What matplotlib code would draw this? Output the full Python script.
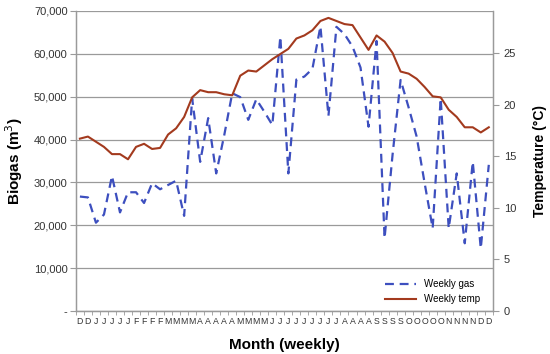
import matplotlib
matplotlib.use("Agg")
import matplotlib.pyplot as plt
from matplotlib.ticker import FuncFormatter, MultipleLocator

plt.rcParams["font.family"] = ["Liberation Sans", "DejaVu Sans"]

week_labels = list("DDJJJJJFFFFMMMMAAAAAMMMMJJJJJJJJJAAAASSSSOOOOONNNNDD")

weekly_gas = [
    26700, 26500, 20600, 22500, 31500, 23000, 27700, 27700, 25200, 29800,
    28400, 29400, 30400, 22200, 49600, 34800, 45000, 32100, 41000, 50800,
    49900, 44600, 49400, 46500, 43400, 64000, 32100, 54000, 54700, 56500,
    66400, 45500, 66300, 64600, 61700, 56800, 43000, 63000, 17000, 36500,
    53900, 47500, 40700, 29800, 19300, 49600, 19300, 32100, 15800, 34800,
    14600, 34100,
]

weekly_temp = [
    16.7, 16.9, 16.4, 15.9, 15.2, 15.2, 14.7, 15.9, 16.2, 15.7,
    15.8, 17.1, 17.7, 18.8, 20.7, 21.4, 21.2, 21.2, 21.0, 20.9,
    22.8, 23.3, 23.2, 23.8, 24.4, 24.9, 25.4, 26.4, 26.7, 27.2,
    28.1, 28.4, 28.1, 27.8, 27.7, 26.5, 25.3, 26.7, 26.1, 25.0,
    23.2, 23.0, 22.5, 21.7, 20.8, 20.7, 19.5, 18.8, 17.8, 17.8,
    17.3, 17.8,
]

x = list(range(len(week_labels)))

fig = plt.figure(figsize=(5.5, 3.54), dpi=100)
ax = fig.add_axes([0.138, 0.1215, 0.758, 0.8475])
ax2 = ax.twinx()

gas_line, = ax.plot(x, weekly_gas, color="#3D4FBF", linewidth=1.6,
                    dashes=(4, 2.6), label="Weekly gas")
temp_line, = ax2.plot(x, weekly_temp, color="#A33A1E", linewidth=1.5,
                      label="Weekly temp")

ax.set_xlim(-0.5, len(x) - 0.5)
ax.set_ylim(0, 70000)
ax2.set_ylim(0, 29.07)

ax.yaxis.set_major_locator(MultipleLocator(10000))
ax.yaxis.set_major_formatter(FuncFormatter(lambda v, p: "-" if v == 0 else f"{v:,.0f}"))
ax2.set_yticks([0, 5, 10, 15, 20, 25])

ax.grid(axis="y", color="#9a9a9a", linewidth=0.9)
ax.set_axisbelow(True)

ax.set_xticks(x)
ax.set_xticklabels(week_labels, fontsize=6.3, color="#333333")
ax.set_xticks([i - 0.5 for i in range(len(x) + 1)], minor=True)
ax.tick_params(axis="x", which="major", length=0, pad=4)
ax.tick_params(axis="x", which="minor", length=3, color="#9a9a9a")
ax.tick_params(axis="y", length=4, color="#9a9a9a", labelsize=8, labelcolor="#333333", pad=2)
ax2.tick_params(axis="y", length=4, color="#9a9a9a", labelsize=8, labelcolor="#333333", pad=4)

for a in (ax, ax2):
    for s in a.spines.values():
        s.set_color("#9a9a9a")
        s.set_linewidth(0.9)
    a.spines["top"].set_visible(False)

ax.set_ylabel("Biogas (m$^3$)", fontsize=11, fontweight="bold", labelpad=6)
ax2.set_ylabel("Temperature (\u00b0C)", fontsize=10, fontweight="bold", labelpad=12)
ax.set_xlabel("Month (weekly)", fontsize=11, fontweight="bold", labelpad=9)

ax.legend(handles=[gas_line, temp_line], loc="lower right", frameon=False,
          fontsize=7, handlelength=3.2, borderaxespad=0.3,
          bbox_to_anchor=(0.985, 0.0))

fig.savefig("out.png", dpi=100)
